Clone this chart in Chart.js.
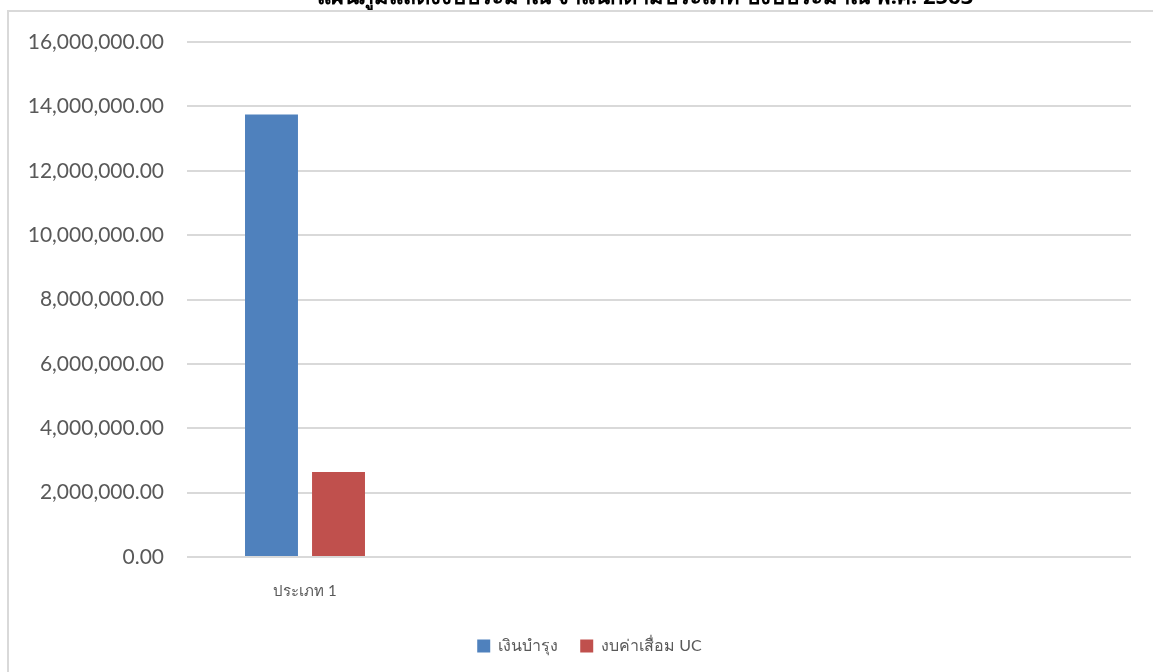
<!DOCTYPE html>
<html>
<head>
<meta charset="utf-8">
<script src="https://cdn.jsdelivr.net/npm/chart.js@4/dist/chart.umd.min.js"></script>
<style>
  html, body { margin: 0; padding: 0; background: #fff; }
  #wrap { position: absolute; left: 0; top: 0; width: 1153px; height: 672px; }
  #frame { position: absolute; left: 7px; top: 10px; width: 1160px; height: 700px;
           border-left: 2px solid #d9d9d9; border-top: 2px solid #d9d9d9; pointer-events: none; }
</style>
</head>
<body>
<div id="wrap">
  <canvas id="c" width="1153" height="672"></canvas>
  <div id="frame"></div>
</div>
<script>
const chartTitle = "แผนภูมิแสดงงบประมาณ จำแนกตามประเภท ปีงบประมาณ พ.ศ. 2563";
const categories = ["ประเภท 1", "", "", ""];
const seriesNames = ["เงินบำรุง", "งบค่าเสื่อม UC"];
const maintenanceFund = [13750000, null, null, null];
const ucDepreciation = [2640000, null, null, null];
const yTicks = [0, 2000000, 4000000, 6000000, 8000000, 10000000, 12000000, 14000000, 16000000];

const fmt = v => v.toLocaleString("en-US", { minimumFractionDigits: 2, maximumFractionDigits: 2 });

const titlePlugin = {
  id: "cutTitle",
  afterDraw(chart) {
    const ctx = chart.ctx;
    ctx.save();
    ctx.font = "bold 22px 'Noto Sans', 'DejaVu Sans', sans-serif";
    ctx.fillStyle = "#000";
    ctx.textAlign = "center";
    ctx.textBaseline = "alphabetic";
    ctx.fillText(chartTitle, 645, 4);
    ctx.restore();
  }
};

const legendShift = {
  id: "legendShift",
  afterUpdate(chart) {
    const lg = chart.legend;
    if (!lg) return;
    lg.left += 24;
    lg.right += 24;
    lg.adjustHitBoxes();
  }
};

new Chart(document.getElementById("c"), {
  type: "bar",
  data: {
    labels: categories,
    datasets: [
      { label: seriesNames[0], data: maintenanceFund, backgroundColor: "#4f81bd", borderWidth: 0 },
      { label: seriesNames[1], data: ucDepreciation, backgroundColor: "#c0504d", borderWidth: 0 }
    ]
  },
  plugins: [titlePlugin, legendShift],
  options: {
    responsive: false,
    animation: false,
    devicePixelRatio: 1,
    categoryPercentage: 0.568,
    barPercentage: 0.79,
    layout: { padding: { left: 0, right: 22, top: 42, bottom: 8 } },
    plugins: {
      title: { display: false },
      tooltip: { enabled: false },
      legend: {
        position: "bottom",
        labels: {
          boxWidth: 13, boxHeight: 13, padding: 22,
          color: "#595959",
          font: { size: 16, family: "Lato, 'Noto Sans', sans-serif" }
        }
      }
    },
    scales: {
      x: {
        grid: { display: false, drawTicks: false },
        border: { display: false },
        ticks: { color: "#595959", padding: 25, font: { size: 15, family: "Lato, 'Noto Sans', sans-serif" } },
        afterFit(s) { s.height = 59; }
      },
      y: {
        min: 0, max: 16000000,
        afterBuildTicks(s) { s.ticks = yTicks.map(v => ({ value: v })); },
        grid: { color: "#d9d9d9", lineWidth: 2, drawTicks: false },
        border: { display: false },
        ticks: {
          color: "#595959", padding: 23,
          font: { size: 21, family: "Lato, sans-serif" },
          callback: v => fmt(v)
        },
        afterFit(s) { s.width = 187; }
      }
    }
  }
});
</script>
</body>
</html>
